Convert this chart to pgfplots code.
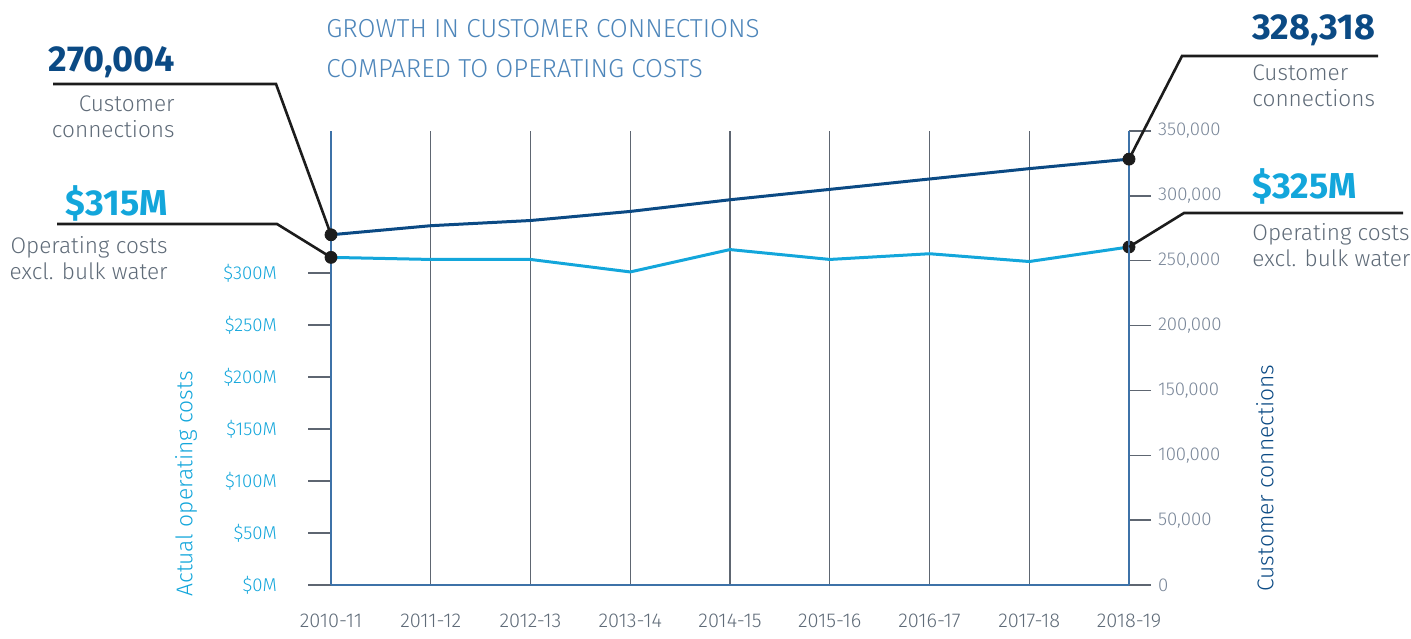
\documentclass[border=0pt]{standalone}
\usepackage{pgfplots}
\pgfplotsset{compat=1.18}
\usepackage{fontspec}
\setmainfont{Fira Sans}
\newfontfamily\lightfont{Fira Sans Light}
\definecolor{dblue}{HTML}{0B4A84}
\definecolor{lblue}{HTML}{13A6DB}
\definecolor{tgray}{HTML}{5F6B78}
\definecolor{tickgray}{HTML}{7A8799}
\definecolor{spine}{HTML}{3D72A8}
\definecolor{gridc}{HTML}{5E6671}
\definecolor{titlec}{HTML}{4E86BA}
\definecolor{dotc}{HTML}{1C1C1C}
\begin{document}
\begin{tikzpicture}
\useasboundingbox (0,0) rectangle (705.5pt,319pt);
\begin{axis}[
  at={(165.5pt,26.5pt)}, anchor=south west,
  scale only axis, width=399pt, height=227pt,
  xmin=0, xmax=8, ymin=0, ymax=436.5,
  axis x line*=bottom, axis y line*=left,
  axis line style={-, spine, line width=0.8pt},
  xtick={0,...,8},
  xticklabels={2010-11,2011-12,2012-13,2013-14,2014-15,2015-16,2016-17,2017-18,2018-19},
  xticklabel style={font=\lightfont\fontsize{10}{11}\selectfont, text=tgray, yshift=-2pt, inner sep=1pt},
  xmajorgrids, grid style={gridc, line width=0.6pt},
  major x tick style={draw=none},
  ytick={0,50,100,150,200,250,300},
  yticklabels={\$0M,\$50M,\$100M,\$150M,\$200M,\$250M,\$300M},
  yticklabel style={font=\lightfont\fontsize{9.3}{10}\selectfont, text=lblue, xshift=-12pt},
  tick align=outside, major tick length=11.5pt,
  major y tick style={gridc, line width=0.7pt},
  clip=false,
]
\addplot[lblue, line width=1.5pt] coordinates {
 (0,315) (1,313) (2,313) (3,301) (4,322.5) (5,313) (6,318.5) (7,311) (8,325)};
\addplot[only marks, mark=*, mark size=3pt, dotc] coordinates {(0,315) (8,325)};
\coordinate (cL) at (axis cs:0,315);
\coordinate (cR) at (axis cs:8,325);
\end{axis}
\begin{axis}[
  at={(165.5pt,26.5pt)}, anchor=south west,
  scale only axis, width=399pt, height=227pt,
  xmin=0, xmax=8, ymin=0, ymax=350000,
  axis x line=none, axis y line*=right,
  axis line style={-, spine, line width=0.8pt},
  scaled y ticks=false,
  ytick={0,50000,100000,150000,200000,250000,300000,350000},
  yticklabels={0,{50,000},{100,000},{150,000},{200,000},{250,000},{300,000},{350,000}},
  yticklabel style={font=\lightfont\fontsize{9.3}{10}\selectfont, text=tickgray, xshift=0pt},
  tick align=outside, major tick length=11pt,
  major y tick style={gridc, line width=0.7pt},
  clip=false,
]
\addplot[dblue, line width=1.5pt] coordinates {
 (0,270004) (1,277000) (2,281000) (3,288000) (4,297000) (5,305000) (6,313000) (7,321000) (8,328318)};
\addplot[only marks, mark=*, mark size=3pt, dotc] coordinates {(0,270004) (8,328318)};
\coordinate (dL) at (axis cs:0,270004);
\coordinate (dR) at (axis cs:8,328318);
\end{axis}
% leader lines
\draw[dotc, line width=1.3pt] (26.5pt,277pt) -- (138pt,277pt) -- (dL);
\draw[dotc, line width=1.3pt] (28.5pt,207pt) -- (138.5pt,207pt) -- (cL);
\draw[dotc, line width=1.3pt] (689pt,291pt) -- (591pt,291pt) -- (dR);
\draw[dotc, line width=1.3pt] (701.5pt,212.5pt) -- (592pt,212.5pt) -- (cR);
% annotation texts
\node[anchor=east, inner sep=0pt, text=dblue, font=\bfseries\fontsize{18}{20}\selectfont] at (87.5pt,288pt) {270,004};
\node[anchor=east, inner sep=0pt, align=right, text=tgray, font=\lightfont\fontsize{11.3}{13}\selectfont] at (87.5pt,260.5pt) {Customer\\connections};
\node[anchor=east, inner sep=0pt, text=lblue, font=\bfseries\fontsize{18}{20}\selectfont] at (84pt,217.5pt) {\$315M};
\node[anchor=east, inner sep=0pt, align=right, text=tgray, font=\lightfont\fontsize{11.3}{13}\selectfont] at (84pt,190pt) {Operating costs\\excl. bulk water};
\node[anchor=west, inner sep=0pt, text=dblue, font=\bfseries\fontsize{18}{20}\selectfont] at (626pt,304pt) {328,318};
\node[anchor=west, inner sep=0pt, align=left, text=tgray, font=\lightfont\fontsize{11.3}{13}\selectfont] at (626pt,276pt) {Customer\\connections};
\node[anchor=west, inner sep=0pt, text=lblue, font=\bfseries\fontsize{18}{20}\selectfont] at (626pt,226pt) {\$325M};
\node[anchor=west, inner sep=0pt, align=left, text=tgray, font=\lightfont\fontsize{11.3}{13}\selectfont] at (626pt,196.5pt) {Operating costs\\excl. bulk water};
% title
\node[anchor=west, inner sep=0pt, text=titlec, font=\lightfont\fontsize{13}{15}\selectfont] at (163pt,304.5pt) {GROWTH IN CUSTOMER CONNECTIONS};
\node[anchor=west, inner sep=0pt, text=titlec, font=\lightfont\fontsize{13}{15}\selectfont] at (163pt,284.5pt) {COMPARED TO OPERATING COSTS};
% axis titles
\node[rotate=90, inner sep=0pt, text=lblue, font=\lightfont\fontsize{11.4}{13}\selectfont] at (93pt,77pt) {Actual operating costs};
\node[rotate=90, inner sep=0pt, text=dblue, font=\lightfont\fontsize{11.4}{13}\selectfont] at (632.5pt,80pt) {Customer connections};
\end{tikzpicture}
\end{document}
